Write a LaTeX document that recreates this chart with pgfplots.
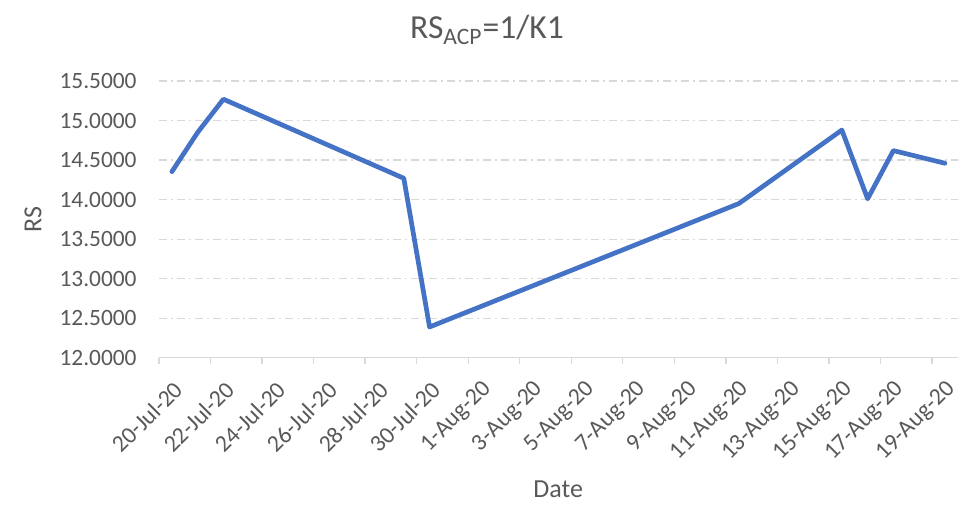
\documentclass[border=0pt]{standalone}
\usepackage{pgfplots}
\pgfplotsset{compat=1.18}
\usepackage{fontspec}
\setmainfont{Carlito}
\definecolor{txt}{HTML}{595959}
\definecolor{gridc}{HTML}{D9D9D9}
\definecolor{series}{HTML}{4472C4}
\begin{document}
\begin{tikzpicture}
\useasboundingbox (-79.5pt,-73.1pt) rectangle (406.5pt,178.9pt);
\begin{axis}[
  scale only axis,
  width=399.4pt, height=138.4pt,
  xmin=-0.5, xmax=30.5, ymin=12, ymax=15.5,
  axis x line*=bottom, axis y line*=left,
  separate axis lines,
  x axis line style={gridc, line width=0.65pt, -},
  y axis line style={draw=none},
  ytick={12,12.5,...,15.5},
  ymajorgrids,
  major grid style={gridc, line width=0.65pt, dash pattern=on 4pt off 2pt on 1pt off 2pt},
  xtick={0,2,...,30},
  xticklabels={20-Jul-20,22-Jul-20,24-Jul-20,26-Jul-20,28-Jul-20,30-Jul-20,1-Aug-20,3-Aug-20,5-Aug-20,7-Aug-20,9-Aug-20,11-Aug-20,13-Aug-20,15-Aug-20,17-Aug-20,19-Aug-20},
  minor xtick={-0.5,1.5,...,29.5},
  tick align=outside,
  major tick length=0pt,
  minor tick length=3.3pt,
  minor x tick style={gridc, line width=0.65pt},
  major tick style={draw=none},
  xticklabel style={xshift=3.5pt, yshift=-13.8pt, rotate=45, anchor=east, font=\fontsize{11.9}{14}\selectfont, color=txt, inner sep=0pt},
  yticklabel style={anchor=east, font=\fontsize{11.7}{14}\selectfont, color=txt, inner sep=0pt, xshift=-11pt},
  /pgf/number format/.cd, fixed, fixed zerofill, precision=4, assume math mode=true,
]
\addplot[series, line width=2.35pt, line join=round, line cap=round] coordinates {
  (0,14.354) (1,14.85) (2,15.27) (9,14.27) (10,12.39)
  (22,13.95) (26,14.88) (27,14.01) (28,14.62) (30,14.46)
};
\end{axis}
\node[font=\fontsize{16.8}{20}\selectfont, color=txt] at (164pt,163.9pt) {RS\textsubscript{ACP}=1/K1};
\node[rotate=90, font=\fontsize{13}{16}\selectfont, color=txt] at (-63pt,69.2pt) {RS};
\node[anchor=base, font=\fontsize{13}{16}\selectfont, color=txt] at (199.6pt,-69.6pt) {Date};
\end{tikzpicture}
\end{document}
